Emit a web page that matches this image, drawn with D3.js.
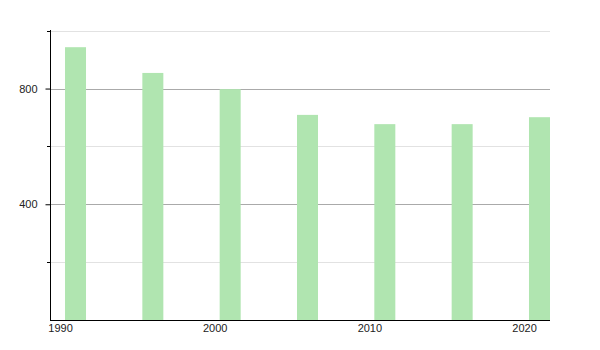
<!DOCTYPE html>
<html>
<head>
<meta charset="utf-8">
<script src="https://cdn.jsdelivr.net/npm/d3@7"></script>
<style>
  body { margin: 0; background: #fff; }
  text { font-family: "Liberation Sans", Arial, sans-serif; font-size: 11px; fill: #222; }
</style>
</head>
<body>
<script>
// census years and population
var years = [1991, 1996, 2001, 2006, 2011, 2016, 2021];
var population = [943, 854, 798, 709, 677, 677, 701];
var xTickYears = [1990, 2000, 2010, 2020];
var majorTicks = [400, 800];
var minorTicks = [200, 600, 1000];

var width = 600, height = 350;
var plotLeft = 50, plotRight = 550, plotTop = 30, plotBottom = 320;

var svg = d3.select("body").append("svg")
    .attr("width", width)
    .attr("height", height);

var x = d3.scaleLinear()
    .domain([1989.35, 2021.68])
    .range([plotLeft, plotRight]);

var y = d3.scaleLinear()
    .domain([0, 1000])
    .range([plotBottom, plotTop + 0.7]);

var barW = 21;

// minor grid lines
svg.selectAll(".minor")
    .data(minorTicks)
    .enter().append("line")
    .attr("x1", plotLeft).attr("x2", plotRight)
    .attr("y1", d => Math.round(y(d)) + 0.5)
    .attr("y2", d => Math.round(y(d)) + 0.5)
    .attr("stroke", "#e2e2e2");

// major grid lines
svg.selectAll(".major")
    .data(majorTicks)
    .enter().append("line")
    .attr("x1", plotLeft).attr("x2", plotRight)
    .attr("y1", d => Math.round(y(d)) + 0.5)
    .attr("y2", d => Math.round(y(d)) + 0.5)
    .attr("stroke", "#aaa");

// bars
svg.selectAll(".bar")
    .data(years)
    .enter().append("rect")
    .attr("x", d => x(d) - barW / 2)
    .attr("y", (d, i) => y(population[i]))
    .attr("width", barW)
    .attr("height", (d, i) => plotBottom - y(population[i]))
    .attr("fill", "#b0e5b0");

// y axis
var yAxis = d3.axisLeft(y)
    .tickValues(majorTicks)
    .tickSize(5)
    .tickPadding(8);
var gy = svg.append("g")
    .attr("transform", "translate(" + (plotLeft + 0.5) + ",0)")
    .call(yAxis);
gy.select(".domain").remove();
gy.selectAll("line").attr("stroke", "#000");

svg.selectAll(".mtick")
    .data(minorTicks)
    .enter().append("line")
    .attr("x1", plotLeft - 3).attr("x2", plotLeft)
    .attr("y1", d => Math.round(y(d)) + 0.5)
    .attr("y2", d => Math.round(y(d)) + 0.5)
    .attr("stroke", "#000");

svg.append("line")
    .attr("x1", plotLeft + 0.5).attr("x2", plotLeft + 0.5)
    .attr("y1", plotTop).attr("y2", plotBottom)
    .attr("stroke", "#000");

// x axis
var xAxis = d3.axisBottom(x)
    .tickValues(xTickYears)
    .tickFormat(d3.format("d"))
    .tickSize(0)
    .tickPadding(4);
var gx = svg.append("g")
    .attr("transform", "translate(0," + (plotBottom + 0.5) + ")")
    .call(xAxis);
gx.select(".domain").remove();

svg.append("line")
    .attr("x1", plotLeft).attr("x2", plotRight)
    .attr("y1", plotBottom + 0.5).attr("y2", plotBottom + 0.5)
    .attr("stroke", "#000");

svg.selectAll("text").attr("fill", "#222").style("font-size", "11px");
</script>
</body>
</html>
